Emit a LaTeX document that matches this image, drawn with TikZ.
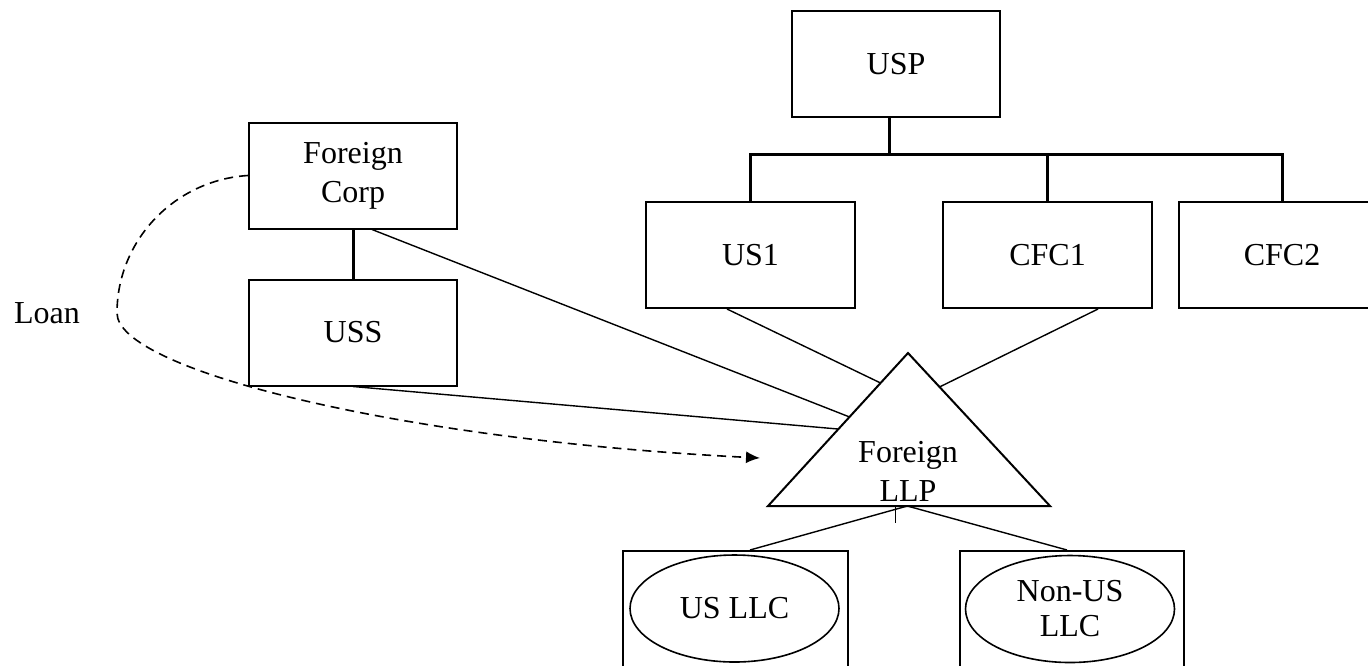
\documentclass[tikz,border=0pt]{standalone}
\usepackage{fontspec}
\setmainfont{Liberation Serif}
\usetikzlibrary{shapes, arrows, arrows.meta, positioning, calc}

\begin{document}
\begin{tikzpicture}[x=0.5pt, y=-0.5pt,
    every node/.style={font=\fontsize{16}{19.5}\selectfont, align=center},
    >=latex,
    box/.style={rectangle, draw=black, line width=1pt, minimum width=104pt, minimum height=53pt},
    llcbox/.style={rectangle, draw=black, line width=1pt, minimum height=75pt},
    oval/.style={ellipse, draw=black, line width=0.8pt, minimum width=104.5pt, minimum height=53.5pt, inner sep=0pt},
    tree/.style={draw, line width=1.5pt},
    line/.style={draw, line width=0.7pt},
    loan/.style={draw, -{Latex[length=7pt, width=6pt]}, line width=0.8pt, dash pattern=on 4.5pt off 3pt}]

\useasboundingbox (0,0) rectangle (1368,665);
\clip (0,0) rectangle (1368,665);

% USP group
\node[box] (usp) at (896,64) {USP};
\node[box, minimum width=104.5pt] (us1) at (750.5,255) {US1};
\node[box, minimum width=104.5pt] (cfc1) at (1047.5,255) {CFC1};
\node[box, minimum width=103pt, right=12.5pt of cfc1] (cfc2) {CFC2};

% Foreign group
\node[box] (fc) at (353,175.5) {Foreign\\Corp};
\node[box, below=24.5pt of fc] (uss) {USS};

% Foreign LLP
\coordinate (llp top) at (908,353);
\coordinate (llp left) at (768,506);
\coordinate (llp right) at (1050,506);
\coordinate (llp base) at ($(llp left)!0.494!(llp right)$);
\draw[line, line width=1pt] (llp top) -- (llp left) -- (llp right) -- cycle;
\node (llp) at (908,471) {Foreign\\LLP};

% LLCs
\node[llcbox, minimum width=112.5pt] (usbox) at (735.5,626) {};
\node[oval] (usllc) at (734.5,608.5) {US LLC};
\node[llcbox, minimum width=112pt] (nonusbox) at (1072,626) {};
\node[oval, font=\fontsize{16}{17.5}\selectfont] (nonusllc) at (1070,609) {Non-US\\LLC};

% Loan
\node (loan) at (47,313) {Loan};
\coordinate (loan end) at (760,458);

% Paths
\coordinate (bar) at (889,154);
\draw[tree] ([xshift=-3.5pt]usp.south) -- (bar);
\draw[tree] (us1.north) |- (bar) -| (cfc2.north);
\draw[tree] (cfc1.north) -- (cfc1.north |- bar);
\draw[tree] (fc) -- (uss);
\draw[line] ([xshift=9.5pt]fc.south) -- ($(llp top)!0.418!(llp left)$);
\draw[line] (uss.south) -- ($(llp top)!0.497!(llp left)$);
\draw[line] ([xshift=-11.75pt]us1.south) -- ($(llp top)!0.196!(llp left)$);
\draw[line] ([xshift=25.25pt]cfc1.south) -- ($(llp top)!0.222!(llp right)$);
\draw[line] (llp base) -- ([xshift=7.25pt]usbox.north);
\draw[line] (llp base) -- ([xshift=-2.5pt]nonusbox.north);
\draw[line] ([xshift=-6pt]llp base) -- ++(0,17);
\draw[loan] (fc.west) .. controls (175,180) and (117,240) .. (117,313)
    .. controls (117,370) and (400,440) .. (loan end);

\end{tikzpicture}
\end{document}
